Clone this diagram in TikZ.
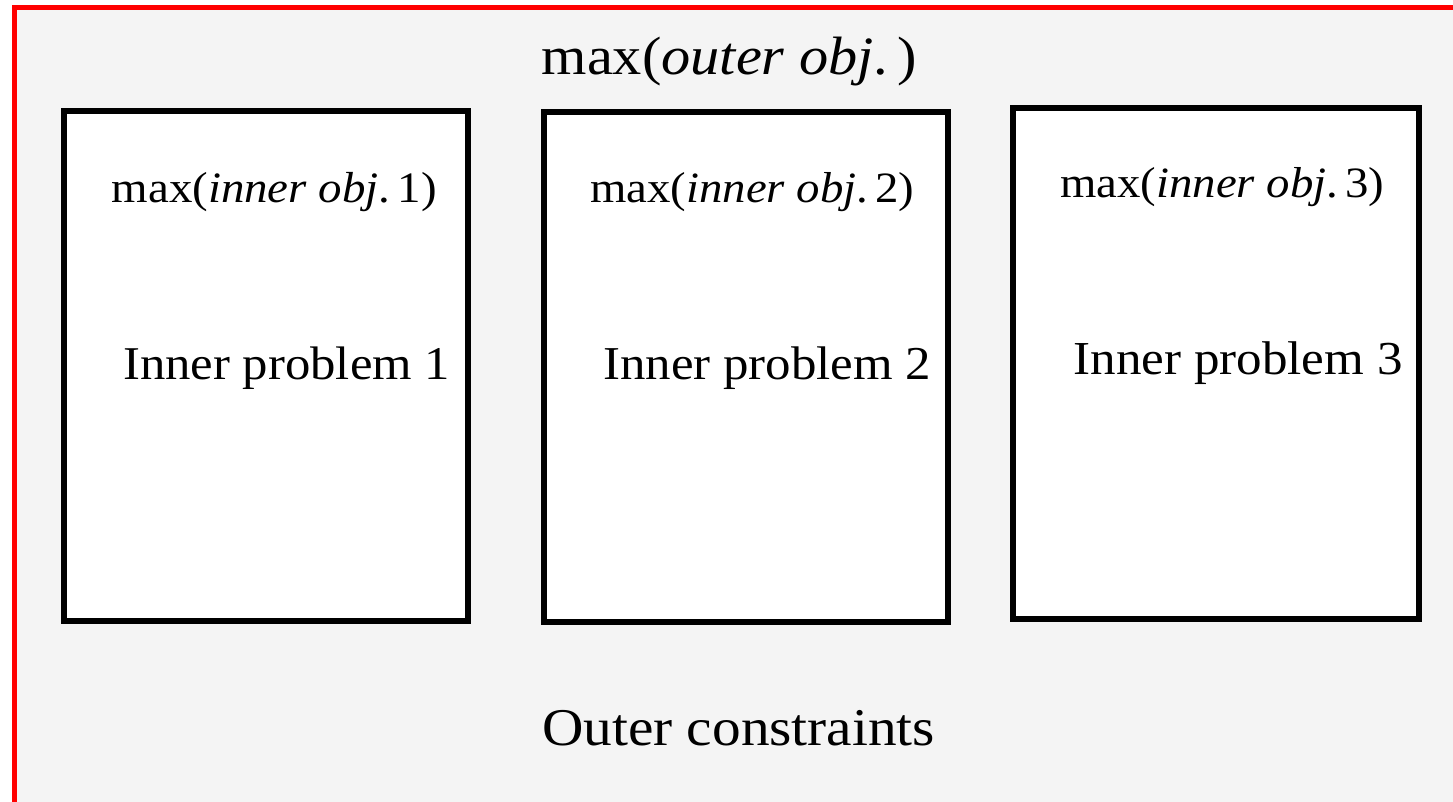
\documentclass[tikz,border=0pt]{standalone}
\usepackage{fontspec}
\usepackage{graphicx}
\setmainfont{Liberation Serif}[FakeStretch=1.08]
\definecolor{panelgrey}{HTML}{F4F4F4}
\newcommand\fitw[2]{\resizebox{#1pt}{!}{#2}}
\tikzset{
  panel/.style={draw=red, line width=5pt, fill=panelgrey},
  innerbox/.style={draw=black, line width=6pt, fill=white, inner sep=0pt},
  lbl/.style={anchor=base west, inner sep=0pt, font=\fontsize{48}{56}\selectfont}
}
\begin{document}
\begin{tikzpicture}[x=1pt, y=-1pt]
  \useasboundingbox (0,0) rectangle (1453,801);
  \clip (0,0) rectangle (1453,801);
  % outer problem panel
  \draw[panel] (14.5,7.5) rectangle (1470,820);
  \node[lbl] (outerobj) at (541.5,74) {\fitw{375}{max(\textit{outer obj}.\,)}};
  % inner problems
  \node[innerbox, minimum width=404pt, minimum height=510pt] (box1) at (266,366) {};
  \node[innerbox, minimum width=403.5pt, minimum height=509.5pt] (box2) at (745.75,366.75) {};
  \node[innerbox, minimum width=405.5pt, minimum height=511pt] (box3) at (1215.75,363) {};
  \node[lbl] (obj1) at (111.5,202) {\fitw{325}{max(\textit{inner obj}.\,1)}};
  \node[lbl] (obj2) at (590,202) {\fitw{324}{max(\textit{inner obj}.\,2)}};
  \node[lbl] (obj3) at (1060,197) {\fitw{324}{max(\textit{inner obj}.\,3)}};
  \node[lbl] (prob1) at (123,379) {\fitw{327}{Inner problem 1}};
  \node[lbl] (prob2) at (603,379) {\fitw{328}{Inner problem 2}};
  \node[lbl] (prob3) at (1073.5,374) {\fitw{329}{Inner problem 3}};
  \node[lbl] (outercons) at (542,745) {\fitw{393}{Outer constraints}};
\end{tikzpicture}
\end{document}
